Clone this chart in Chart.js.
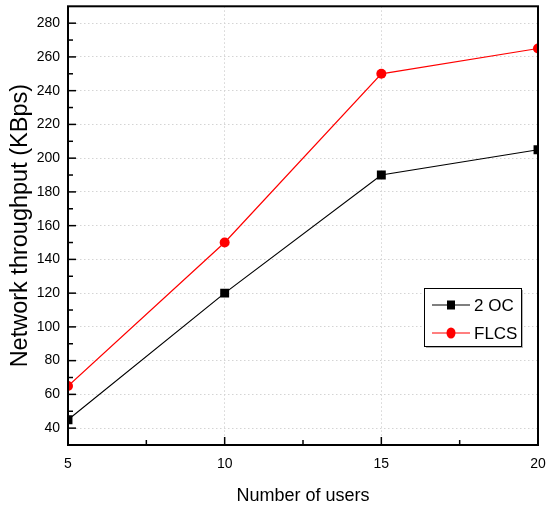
<!DOCTYPE html>
<html>
<head>
<meta charset="utf-8">
<style>
  html, body { margin: 0; padding: 0; background: #fff; }
  #wrap { width: 554px; height: 510px; }
</style>
<script src="https://cdn.jsdelivr.net/npm/chart.js"></script>
</head>
<body>
<div id="wrap"><canvas id="chart" width="554" height="510"></canvas></div>
<script>
'use strict';

// data
const users       = [5, 10, 15, 20];
const oc2         = [45, 120, 190, 205];
const flcs        = [65, 150, 250, 265];
const xTicks      = [5, 10, 15, 20];
const xMinorTicks = [7.5, 12.5, 17.5];
const yTicks      = [40, 60, 80, 100, 120, 140, 160, 180, 200, 220, 240, 260, 280];
const yMinorTicks = [50, 70, 90, 110, 130, 150, 170, 190, 210, 230, 250, 270];

const FONT = "'Liberation Sans', Arial, sans-serif";

// frame, inward ticks and boxed legend
const framePlugin = {
  id: 'frame',
  afterDatasetsDraw(chart) {
    const { ctx, chartArea: a, scales: { x, y } } = chart;
    ctx.save();
    ctx.strokeStyle = '#000';
    ctx.lineWidth = 1.5;
    const tick = (px, len, horiz) => {
      ctx.beginPath();
      if (horiz) { ctx.moveTo(px, a.bottom); ctx.lineTo(px, a.bottom - len); }
      else { ctx.moveTo(a.left, px); ctx.lineTo(a.left + len, px); }
      ctx.stroke();
    };
    xTicks.forEach(v => tick(x.getPixelForValue(v), 8, true));
    xMinorTicks.forEach(v => tick(x.getPixelForValue(v), 5, true));
    yTicks.forEach(v => tick(y.getPixelForValue(v), 8, false));
    yMinorTicks.forEach(v => tick(y.getPixelForValue(v), 5, false));
    ctx.lineWidth = 2;
    ctx.strokeRect(a.left, a.top, a.right - a.left, a.bottom - a.top);
    ctx.restore();
  },
  afterDraw(chart) {
    const { ctx } = chart;
    const bx = 424, by = 288, bw = 97, bh = 58;
    ctx.save();
    ctx.fillStyle = '#b0b0b0';
    ctx.fillRect(bx + 2, by + 2, bw, bh);
    ctx.fillStyle = '#fff';
    ctx.fillRect(bx, by, bw, bh);
    ctx.strokeStyle = '#000';
    ctx.lineWidth = 1;
    ctx.strokeRect(bx + 0.5, by + 0.5, bw, bh);
    chart.data.datasets.forEach((ds, i) => {
      const yy = by + 17 + i * 28;
      ctx.strokeStyle = ds.borderColor;
      ctx.lineWidth = 1.2;
      ctx.beginPath();
      ctx.moveTo(432, yy); ctx.lineTo(470, yy);
      ctx.stroke();
      ctx.fillStyle = ds.pointBackgroundColor;
      if (ds.pointStyle === 'rect') {
        ctx.fillRect(451 - 4, yy - 4.5, 8, 9);
      } else {
        ctx.beginPath();
        ctx.ellipse(451, yy, 4.5, 5.5, 0, 0, Math.PI * 2);
        ctx.fill();
      }
      ctx.fillStyle = '#000';
      ctx.font = '17px ' + FONT;
      ctx.textBaseline = 'middle';
      ctx.fillText(ds.label, 474, yy + 1);
    });
    ctx.restore();
  }
};

new Chart(document.getElementById('chart'), {
  type: 'line',
  data: {
    datasets: [
      {
        label: '2 OC',
        data: users.map((u, i) => ({ x: u, y: oc2[i] })),
        borderColor: '#000000',
        backgroundColor: '#000000',
        pointBackgroundColor: '#000000',
        pointBorderWidth: 0,
        pointStyle: 'rect',
        pointRadius: 6.3,
        borderWidth: 1.2,
        tension: 0
      },
      {
        label: 'FLCS',
        data: users.map((u, i) => ({ x: u, y: flcs[i] })),
        borderColor: '#ff0000',
        backgroundColor: '#ff0000',
        pointBackgroundColor: '#ff0000',
        pointBorderWidth: 0,
        pointStyle: 'circle',
        pointRadius: 5,
        borderWidth: 1.2,
        tension: 0
      }
    ]
  },
  options: {
    responsive: false,
    animation: false,
    layout: { padding: { top: 5, right: 16, left: 0, bottom: 0 } },
    plugins: { legend: { display: false }, tooltip: { enabled: false } },
    scales: {
      x: {
        type: 'linear',
        min: 5, max: 20,
        afterBuildTicks: s => { s.ticks = xTicks.map(v => ({ value: v })); },
        afterFit: s => { s.height = 65; s.paddingLeft = 0; s.paddingRight = 0; },
        grid: { color: '#d4d4d4', lineWidth: 1, drawTicks: false },
        border: { display: false, dash: [1.5, 2.5] },
        ticks: { color: '#000', padding: 11, maxRotation: 0, font: { family: FONT, size: 14 } },
        title: {
          display: true, text: 'Number of users', color: '#000',
          font: { family: FONT, size: 18 }, padding: { top: 0, bottom: 3 }
        }
      },
      y: {
        type: 'linear',
        min: 30, max: 290,
        afterBuildTicks: s => { s.ticks = yTicks.map(v => ({ value: v })); },
        afterFit: s => { s.width = 68; s.paddingTop = 0; s.paddingBottom = 0; },
        grid: { color: '#d4d4d4', lineWidth: 1, drawTicks: false },
        border: { display: false, dash: [1.5, 2.5] },
        ticks: { color: '#000', padding: 8, font: { family: FONT, size: 14 } },
        title: {
          display: true, text: 'Network throughput (KBps)', color: '#000',
          font: { family: FONT, size: 23.5 }, padding: { top: 6, bottom: 0 }
        }
      }
    }
  },
  plugins: [framePlugin]
});
</script>
</body>
</html>
